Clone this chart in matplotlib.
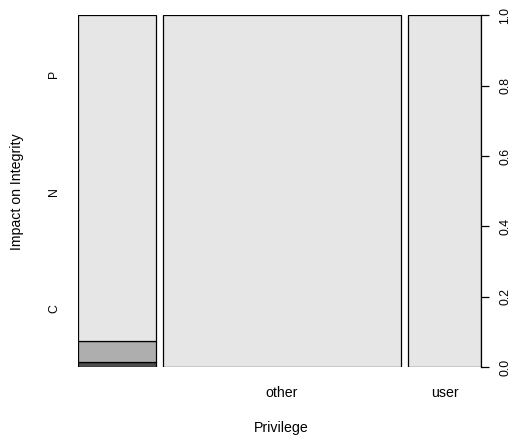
import matplotlib
matplotlib.use("Agg")
import matplotlib.pyplot as plt
import numpy as np

# Data
privilege = ["", "other", "user"]
privilege_share = [0.199, 0.613, 0.188]
impact_levels = ["C", "N", "P"]
cond_C = [0.013, 0.0, 0.0]
cond_N = [0.061, 0.0, 0.0]
cond_P = [0.926, 1.0, 1.0]
ytick_vals = [0.0, 0.2, 0.4, 0.6, 0.8, 1.0]
ylevel_pos = [1/6, 1/2, 5/6]

colors = ["#4D4D4D", "#AEAEAE", "#E6E6E6"]

plt.rcParams['font.family'] = ['Liberation Sans', 'DejaVu Sans']
W, H = 515, 440
dpi = 100
fig = plt.figure(figsize=(W / dpi, H / dpi), dpi=dpi)
L, R, T, B = 78.3, 481, 15.5, 367
ax = fig.add_axes([L / W, 1 - B / H, (R - L) / W, (B - T) / H])

off = 0.018
shares = np.array(privilege_share)
lefts = np.concatenate([[0], np.cumsum(shares + off)[:-1]])
series = [cond_C, cond_N, cond_P]
bottom = np.zeros(len(privilege))
for vals, col in zip(series, colors):
    v = np.array(vals)
    ax.bar(lefts, v, width=shares, bottom=bottom, align='edge', color=col,
           edgecolor='black', linewidth=0.9)
    bottom += v

xmax = lefts[-1] + shares[-1]
ax.set_xlim(0, xmax)
ax.set_ylim(0, 1)

for s in ['top', 'left', 'bottom']:
    ax.spines[s].set_visible(False)
ax.spines['right'].set_linewidth(0.9)

fs = 10.2
ax.yaxis.tick_right()
ax.set_yticks(ytick_vals)
ax.set_yticklabels([f"{v:.1f}" for v in ytick_vals], rotation=90, va='center', fontsize=8.8)
ax.tick_params(axis='y', length=5.8, width=0.9, pad=7.5)

ax.set_xticks(lefts + shares / 2)
ax.set_xticklabels(privilege, fontsize=fs)
ax.tick_params(axis='x', length=0, pad=14)

sec = ax.secondary_yaxis('left')
sec.set_yticks(ylevel_pos)
sec.set_yticklabels(impact_levels, rotation=90, va='center', fontsize=8.8)
sec.tick_params(length=0, pad=13.2)
sec.spines['left'].set_visible(False)

fig.text(281 / W, 1 - 428 / H, "Privilege", ha='center', va='center', fontsize=fs)
fig.text(17 / W, 1 - (T + B) / 2 / H, "Impact on Integrity", rotation=90,
         ha='center', va='center', fontsize=fs)

fig.savefig("out.png", dpi=dpi)
